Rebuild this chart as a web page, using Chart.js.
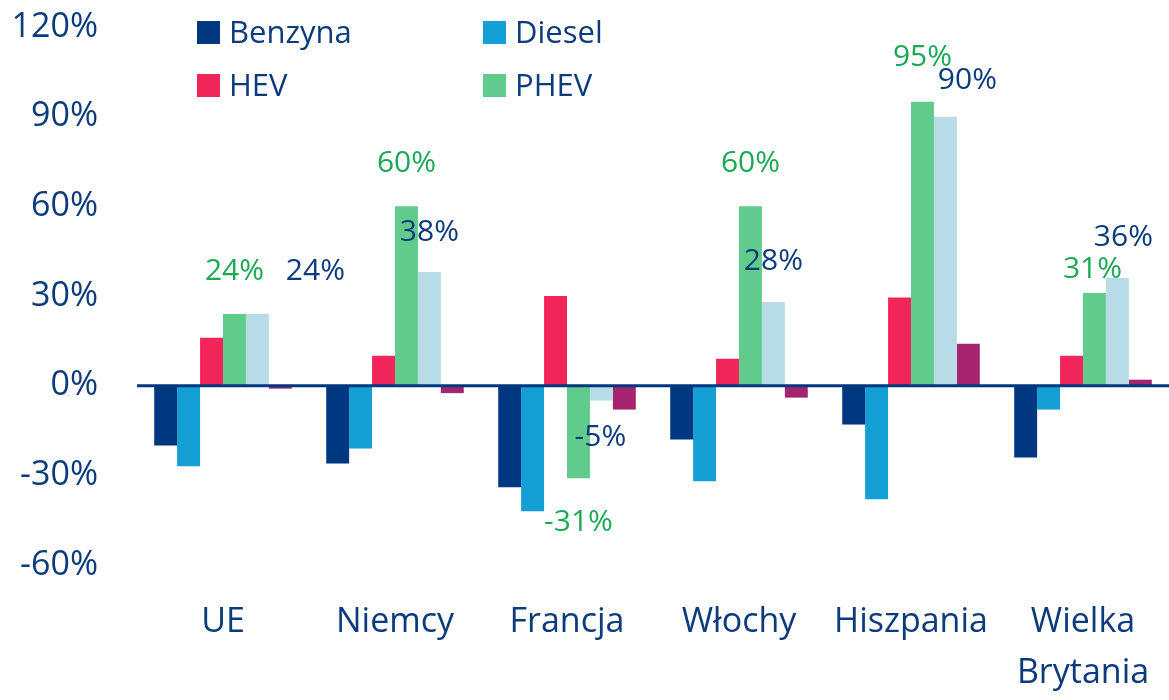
<!DOCTYPE html>
<html>
<head>
<meta charset="utf-8">
<script src="https://cdn.jsdelivr.net/npm/chart.js@4/dist/chart.umd.min.js"></script>
<style>
  body { margin: 0; background: #ffffff; }
  #wrap { width: 1169px; height: 700px; }
</style>
</head>
<body>
<div id="wrap"><canvas id="canvas-sales-change" width="1169" height="700"></canvas></div>
<script>
// dane z wykresu (zmiana r/r, %)
var categories = ['UE', 'Niemcy', 'Francja', 'Włochy', 'Hiszpania', ['Wielka', 'Brytania']];
var benzyna = [-20, -26, -34, -18, -13, -24];
var diesel = [-27, -21, -42, -32, -38, -8];
var hev = [16, 10, 30, 9, 29.5, 10];
var phev = [24, 60, -31, 60, 95, 31];
var bev = [24, 38, -5, 28, 90, 36];
var inne = [-1, -2.5, -8, -4, 14, 2];
var yTicks = [-60, -30, 0, 30, 60, 90, 120];

var navyText = '#0b3b7c';
var greenText = '#1aaa55';
var fontFamily = '"Open Sans", "Noto Sans", sans-serif';

// przesuniecia etykiet danych wzgledem konca slupka (px)
var phevLabelShift = [[0, -42], [0, -43], [0, 44], [0, -43], [0, -44], [-2, -24]];
var bevLabelShift = [[58, -42], [0, -40], [-1, 37], [0, -41], [22, -36], [6, -41]];

var valueLabels = {
    id: 'valueLabels',
    afterDatasetsDraw: function(chart) {
        var ctx = chart.ctx;
        var y0 = chart.scales.y.getPixelForValue(0);
        // linia zera
        ctx.save();
        ctx.strokeStyle = '#003781';
        ctx.lineWidth = 3;
        ctx.beginPath();
        ctx.moveTo(chart.chartArea.left, y0);
        ctx.lineTo(chart.chartArea.right, y0);
        ctx.stroke();

        ctx.font = '30px ' + fontFamily;
        ctx.textAlign = 'center';
        ctx.textBaseline = 'middle';
        chart.data.datasets.forEach(function(ds, i) {
            if (!ds.labelShift) return;
            var meta = chart.getDatasetMeta(i);
            ctx.fillStyle = ds.labelColor;
            meta.data.forEach(function(bar, j) {
                var s = ds.labelShift[j];
                ctx.fillText(ds.data[j] + '%', bar.x + s[0], bar.y + s[1]);
            });
        });
        ctx.restore();
    },
    afterDraw: function(chart) {
        // legenda 2x2
        var ctx = chart.ctx;
        var items = [
            {i: 0, x: 197, y: 33},
            {i: 1, x: 483, y: 33},
            {i: 2, x: 197, y: 86},
            {i: 3, x: 483, y: 86}
        ];
        ctx.save();
        ctx.font = '31px ' + fontFamily;
        ctx.textAlign = 'left';
        ctx.textBaseline = 'middle';
        items.forEach(function(it) {
            var ds = chart.data.datasets[it.i];
            ctx.fillStyle = ds.backgroundColor;
            ctx.fillRect(it.x, it.y - 12, 23, 23);
            ctx.fillStyle = navyText;
            ctx.fillText(ds.label, it.x + 32, it.y + 1);
        });
        ctx.restore();
    }
};

var ctx = document.getElementById('canvas-sales-change').getContext('2d');
var chart = new Chart(ctx, {
    type: 'bar',
    data: {
        labels: categories,
        datasets: [
            {label: 'Benzyna', data: benzyna, backgroundColor: '#003781'},
            {label: 'Diesel', data: diesel, backgroundColor: '#14a0d5'},
            {label: 'HEV', data: hev, backgroundColor: '#f2255a'},
            {label: 'PHEV', data: phev, backgroundColor: '#60cb8a', labelColor: greenText, labelShift: phevLabelShift},
            {label: 'BEV', data: bev, backgroundColor: '#b8dbe8', labelColor: navyText, labelShift: bevLabelShift},
            {label: 'Pozostałe', data: inne, backgroundColor: '#a5246f'}
        ]
    },
    options: {
        responsive: false,
        devicePixelRatio: 1,
        animation: false,
        layout: {padding: {top: 0, right: 0, bottom: 0, left: 0}},
        datasets: {bar: {categoryPercentage: 0.8, barPercentage: 1.0}},
        plugins: {
            legend: {display: false},
            tooltip: {enabled: false}
        },
        scales: {
            x: {
                grid: {display: false, drawTicks: false},
                border: {display: false},
                ticks: {
                    color: navyText,
                    font: {family: fontFamily, size: 34, lineHeight: 1.5},
                    padding: 32,
                    maxRotation: 0,
                    autoSkip: false
                },
                afterFit: function(axis) {
                    axis.height = 135;
                    axis.paddingLeft = 0;
                    axis.paddingRight = 0;
                }
            },
            y: {
                min: -60,
                max: 120,
                grid: {display: false, drawTicks: false},
                border: {display: false},
                afterBuildTicks: function(axis) {
                    axis.ticks = yTicks.map(function(v) { return {value: v}; });
                },
                ticks: {
                    color: navyText,
                    font: {family: fontFamily, size: 34},
                    padding: 39,
                    callback: function(v) { return v + '%'; }
                },
                afterFit: function(axis) {
                    axis.width = 137;
                    axis.paddingTop = 27;
                    axis.paddingBottom = 0;
                }
            }
        }
    },
    plugins: [valueLabels]
});
</script>
</body>
</html>
